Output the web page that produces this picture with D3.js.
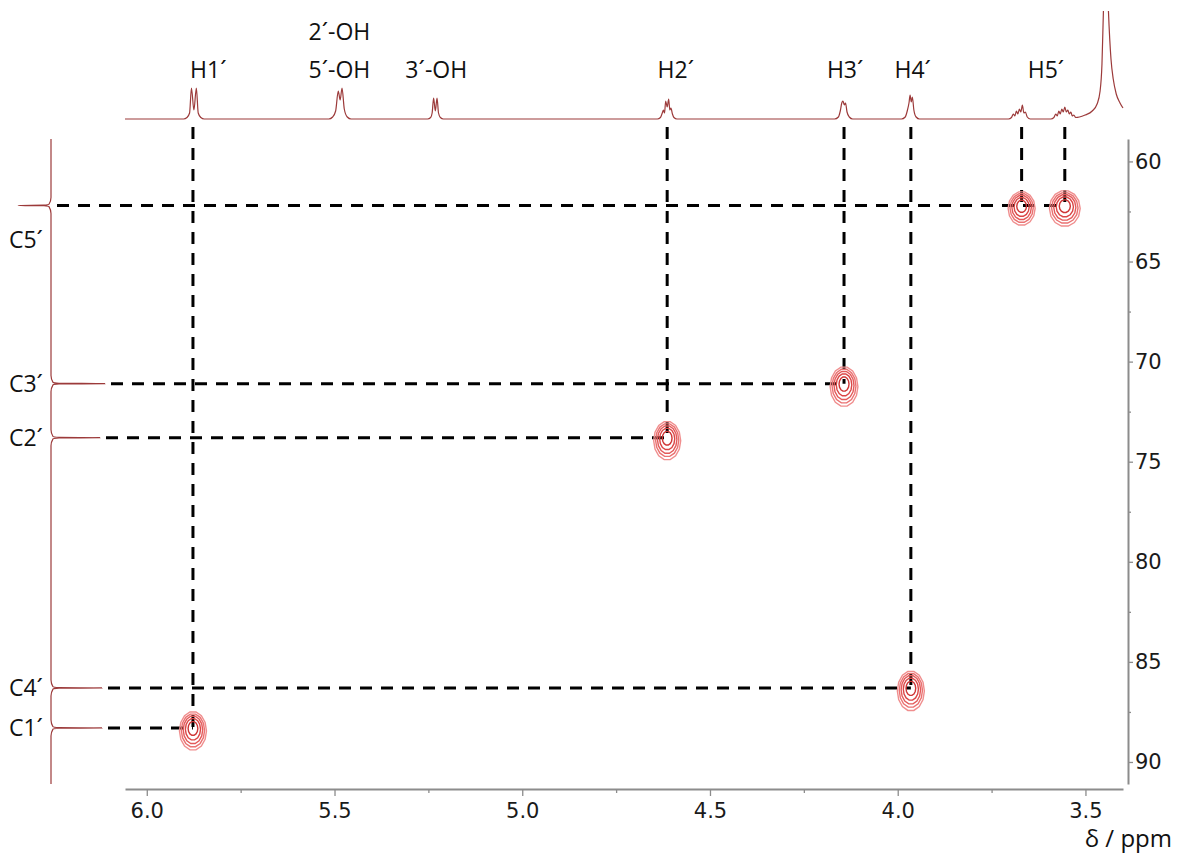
<!DOCTYPE html>
<html>
<head>
<meta charset="utf-8">
<script src="https://cdn.jsdelivr.net/npm/d3@7"></script>
<style>
body { margin: 0; background: #fff; }
.axis path { stroke: #8c8c8c; stroke-width: 2; }
.axis line { stroke: #8c8c8c; stroke-width: 1.3; }
.axis text { font-family: "DejaVu Sans", Verdana, sans-serif; font-size: 21px; fill: #1a1a1a; }
.trace { fill: none; stroke: #9c3a3a; stroke-width: 1.2; }
.guide { fill: none; stroke: #000; stroke-width: 3; stroke-dasharray: 12,9; }
.label { font-family: "Open Sans", sans-serif; font-size: 23px; fill: #111; }
</style>
</head>
<body>
<div class="container"></div>
<script>
const WIDTH = 1178;
const HEIGHT = 854;

const PLOT_LEFT = 125;
const PLOT_RIGHT = 1123;
const PLOT_TOP = 139;
const PLOT_BOTTOM = 784;
const X_AXIS_Y = 789;
const Y_AXIS_X = 1128;
const TOP_BASE = 119;
const LEFT_BASE = 51;
const GUIDE_TOP = 127;

// axes
var hDomain = [6.058, 3.40];
var cDomain = [58.88, 91.1];
var xTicks = [6.0, 5.5, 5.0, 4.5, 4.0, 3.5];
var xMinorTicks = [5.75, 5.25, 4.75, 4.25, 3.75];
var yTicks = [60, 65, 70, 75, 80, 85, 90];
var yMinorTicks = [62.5, 67.5, 72.5, 77.5, 82.5, 87.5];

// 1H labels over the projection
var protonNames = ["H1´", "5´-OH", "2´-OH", "3´-OH", "H2´", "H3´", "H4´", "H5´"];
var protonLabelShifts = [5.836, 5.487, 5.487, 5.229, 4.591, 4.140, 3.960, 3.605];
var protonLabelRows = [0, 0, 1, 0, 0, 0, 0, 0];

// 13C signals (negative = CH2)
var carbonNames = ["C5´", "C3´", "C2´", "C4´", "C1´"];
var carbonShifts = [62.2, 71.1, 73.8, 86.3, 88.3];
var carbonLabelShifts = [63.9, 71.1, 73.8, 86.3, 88.3];
var carbonIntensity = [-33, 54, 49, 51, 51];

// HSQC cross peaks
var crossH = [3.670, 3.555, 4.143, 4.614, 3.965, 5.877];
var crossC = [62.2, 62.2, 71.1, 73.8, 86.3, 88.3];
var crossHalfWidth = [0.036, 0.041, 0.037, 0.036, 0.036, 0.036];
var crossHalfHeight = [0.85, 0.9, 1.0, 0.97, 1.0, 0.97];
var contourLevels = [1, 0.86, 0.72, 0.56, 0.36];
var contourColors = ["#f08e8e", "#ea7272", "#e35a5a", "#db4646", "#cf3636"];

// 1H projection, [ppm, intensity]
var h1Points = [[5.902,0],[5.893,1.5],[5.886,6],[5.881,31],[5.8745,9],[5.868,31],[5.863,6],[5.856,1.5],[5.847,0]];
var ohPoints = [[5.515,0],[5.505,2],[5.497,8],[5.490,28],[5.485,19],[5.480,31],[5.474,10],[5.466,2],[5.456,0]];
var oh3Points = [[5.252,0],[5.244,1.5],[5.240,6],[5.236,21],[5.2315,8],[5.227,21],[5.223,6],[5.218,1.5],[5.210,0]];
var h2Points = [[4.640,0],[4.632,1.5],[4.627,6],[4.624,9],[4.621,6],[4.618,18],[4.614,12],[4.610,20],[4.607,9],[4.604,11],[4.600,5],[4.596,1.5],[4.588,0]];
var h3Points = [[4.168,0],[4.158,2],[4.153,8],[4.149,16],[4.146,18],[4.142,14],[4.139,16],[4.135,7],[4.129,2],[4.120,0]];
var h4Points = [[3.990,0],[3.980,2],[3.974,9],[3.970,16],[3.967,24],[3.964,17],[3.961,22],[3.957,9],[3.951,2],[3.942,0]];
var h5aPoints = [[3.705,0],[3.697,1.5],[3.692,5],[3.688,3],[3.684,8],[3.680,5],[3.676,10],[3.672,7],[3.668,14],[3.664,6],[3.660,7],[3.655,2],[3.647,0]];
var h5bPoints = [[3.592,0],[3.584,1.5],[3.579,5],[3.575,3],[3.571,8],[3.567,5],[3.563,10],[3.559,7],[3.555,12],[3.551,7],[3.547,9],[3.543,5],[3.539,7],[3.535,3],[3.531,4],[3.526,1.5]];
var waterPoints = [[3.516,2],[3.501,4],[3.482,8],[3.469,15],[3.461,28],[3.456,55],[3.452,110],[3.445,180],[3.439,110],[3.432,60],[3.426,40],[3.418,25],[3.408,16],[3.400,11]];
var protonBaseline = [[6.058,0]];

// 13C projection, [ppm, intensity]
var c5Points = [[61.8,0],[62.14,-2],[62.185,-7],[62.2,-33],[62.215,-7],[62.26,-2],[62.6,0]];
var c3Points = [[70.7,0],[71.04,2],[71.085,8],[71.1,54],[71.115,8],[71.16,2],[71.5,0]];
var c2Points = [[73.4,0],[73.74,2],[73.785,8],[73.8,49],[73.815,8],[73.86,2],[74.2,0]];
var c4Points = [[85.9,0],[86.24,2],[86.285,8],[86.3,51],[86.315,8],[86.36,2],[86.7,0]];
var c1Points = [[87.9,0],[88.24,2],[88.285,8],[88.3,51],[88.315,8],[88.36,2],[88.7,0]];
var carbonBaseline = [[58.88,0],[91.1,0]];

var _svg, _xScale, _yScale;

var translate = function(x, y){
	return "translate(" + x + "," + y + ")";
};

var generateChart = function(){
	_svg = d3.select('.container').append('svg')
		.attr('width', WIDTH)
		.attr('height', HEIGHT);

	_xScale = d3.scaleLinear().domain(hDomain).range([PLOT_LEFT, PLOT_RIGHT]);
	_yScale = d3.scaleLinear().domain(cDomain).range([PLOT_TOP, PLOT_BOTTOM]);

	var topScale = d3.scaleLinear().domain([0, 107]).range([TOP_BASE, 12]);
	var sideScale = d3.scaleLinear().domain([0, 52]).range([LEFT_BASE, 103]);

	// x axis
	_svg.append('g')
		.attr('class', 'axis')
		.attr('transform', translate(0, X_AXIS_Y))
		.call(d3.axisBottom(_xScale).tickValues(xTicks).tickFormat(d3.format('.1f'))
			.tickSize(7).tickSizeOuter(0).tickPadding(7));
	_svg.append('g')
		.attr('class', 'axis minor')
		.attr('transform', translate(0, X_AXIS_Y))
		.call(d3.axisBottom(_xScale).tickValues(xMinorTicks).tickFormat('')
			.tickSize(4).tickSizeOuter(0));

	// y axis
	_svg.append('g')
		.attr('class', 'axis')
		.attr('transform', translate(Y_AXIS_X, 0))
		.call(d3.axisRight(_yScale).tickValues(yTicks).tickSize(5).tickSizeOuter(0).tickPadding(2));
	_svg.append('g')
		.attr('class', 'axis minor')
		.attr('transform', translate(Y_AXIS_X, 0))
		.call(d3.axisRight(_yScale).tickValues(yMinorTicks).tickFormat('').tickSize(3).tickSizeOuter(0));
	_svg.selectAll('.minor path').remove();

	_svg.append('text')
		.attr('class', 'label')
		.attr('x', 1172)
		.attr('y', 847)
		.attr('text-anchor', 'end')
		.style('font-size', '24px')
		.text('δ / ppm');

	// 1H projection
	_svg.append('clipPath').attr('id', 'topclip')
		.append('rect').attr('x', 0).attr('y', 11).attr('width', WIDTH).attr('height', 130);

	var topPoints = protonBaseline.concat(h1Points, ohPoints, oh3Points, h2Points, h3Points,
		h4Points, h5aPoints, h5bPoints, waterPoints)
		.sort(function(a, b){ return b[0] - a[0]; });

	var topLine = d3.line()
		.x(function(q){ return _xScale(q[0]); })
		.y(function(q){ return topScale(q[1]); })
		.curve(d3.curveMonotoneX);

	_svg.append('path')
		.attr('class', 'trace')
		.attr('clip-path', 'url(#topclip)')
		.attr('d', topLine(topPoints));

	_svg.selectAll('.hlabel')
		.data(protonNames)
		.enter().append('text')
		.attr('class', 'label hlabel')
		.attr('text-anchor', 'middle')
		.attr('x', function(d, i){ return _xScale(protonLabelShifts[i]); })
		.attr('y', function(d, i){ return 78 - protonLabelRows[i] * 38; })
		.text(function(d){ return d; });

	// 13C projection
	var sidePoints = carbonBaseline.concat(c5Points, c3Points, c2Points, c4Points, c1Points)
		.sort(function(a, b){ return a[0] - b[0]; });

	var sideLine = d3.line()
		.x(function(q){ return sideScale(q[1]); })
		.y(function(q){ return _yScale(q[0]); })
		.curve(d3.curveMonotoneY);

	_svg.append('path')
		.attr('class', 'trace')
		.attr('d', sideLine(sidePoints));

	_svg.selectAll('.clabel')
		.data(carbonNames)
		.enter().append('text')
		.attr('class', 'label clabel')
		.attr('text-anchor', 'end')
		.attr('x', 43)
		.attr('y', function(d, i){ return _yScale(carbonLabelShifts[i]); })
		.attr('dy', '0.36em')
		.text(function(d){ return d; });

	// dashed guides
	var g = _svg.append('g');
	crossH.forEach(function(h, i){
		g.append('line')
			.attr('class', 'guide')
			.attr('x1', _xScale(h)).attr('x2', _xScale(h))
			.attr('y1', GUIDE_TOP).attr('y2', _yScale(crossC[i]));
	});
	carbonShifts.forEach(function(c, i){
		var far = d3.min(crossH.filter(function(h, j){ return crossC[j] === c; }));
		var start = Math.max(LEFT_BASE, sideScale(carbonIntensity[i])) + 6;
		g.append('line')
			.attr('class', 'guide')
			.attr('x1', start).attr('x2', _xScale(far))
			.attr('y1', _yScale(c)).attr('y2', _yScale(c));
	});

	// contours
	var ringLine = d3.line().curve(d3.curveLinearClosed);
	crossH.forEach(function(h, i){
		contourLevels.forEach(function(f, k){
			var pts = d3.range(14).map(function(j){
				var a = j / 14 * 2 * Math.PI;
				return [
					_xScale(h + crossHalfWidth[i] * f * Math.cos(a)),
					_yScale(crossC[i] + 0.15 + crossHalfHeight[i] * (f * Math.sin(a) - (1 - f) * 0.2))
				];
			});
			_svg.append('path')
				.attr('d', ringLine(pts))
				.attr('fill', 'none')
				.attr('stroke', contourColors[k])
				.attr('stroke-width', 1.4);
		});
	});
};

window.onload = function() {
	generateChart();
};
</script>
</body>
</html>
